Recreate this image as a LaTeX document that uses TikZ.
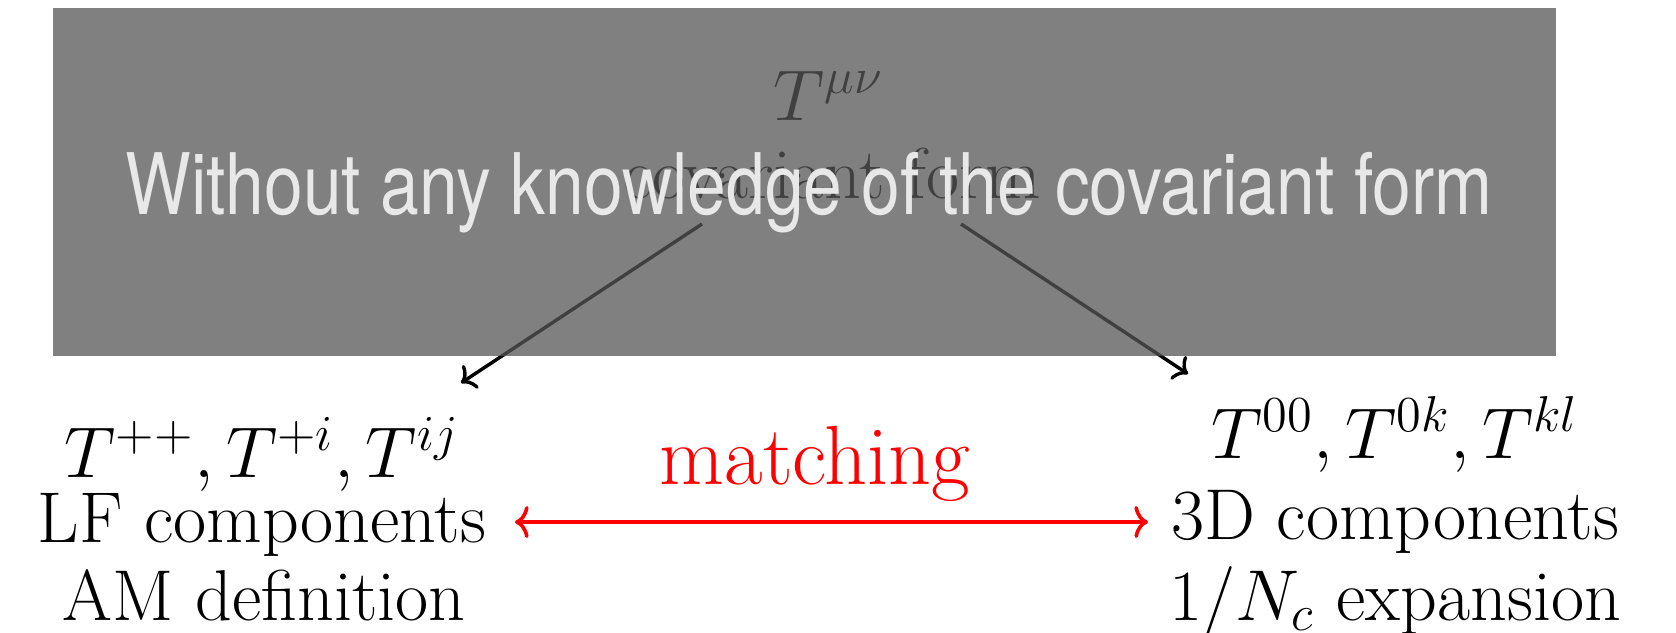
\documentclass[tikz,border=0pt]{standalone}
\usepackage{fix-cm}
\usepackage{graphicx}
\usepackage{fontspec}
\newfontfamily\herosfont{TeX Gyre Heros}
\usetikzlibrary{arrows.meta,calc}
\definecolor{veil}{RGB}{86,86,86}
\definecolor{veiltext}{RGB}{232,232,232}
\begin{document}
\begin{tikzpicture}[x=0.25pt,y=-0.25pt,
  lbl/.style={inner sep=0pt,anchor=base,font=\fontsize{18}{21.6}\selectfont},
  arr/.style={line width=0.85pt,-{To[length=3.2pt,width=7pt]}},
  redarr/.style={red,line width=0.9pt,{To[length=3.4pt,width=8pt]}-{To[length=3.4pt,width=8pt]}},
  veilbox/.style={fill=veil,fill opacity=0.75},
  note/.style={inner sep=0pt,anchor=base,text=veiltext,font=\herosfont\fontsize{17.4}{20}\selectfont}]
\useasboundingbox (0,0) rectangle (1676,632);
\fill[white] (0,0) rectangle (1676,632);
% top
\node[lbl] (mu) at (829,120) {$T^{\mu\nu}$};
\node[lbl] (cov) at (832,198) {covariant form};
% left column
\node[lbl] (lt) at (262,477) {$T^{++},T^{+i},T^{ij}$};
\node[lbl] (lf) at (262,542) {LF components};
\node[lbl] (am) at (264,620) {AM definition};
% right column
\node[lbl] (rt) at (1395,458) {$T^{00},T^{0k},T^{kl}$};
\node[lbl] (rd) at (1395,539) {3D components};
\node[lbl] (rn) at (1395,620) {$1/N_c$ expansion};
% matching
\node[lbl,text=red,font=\fontsize{21}{25}\selectfont] (match) at (815,484) {matching};
% arrows
\draw[arr] ($(cov.base)+(-130,26)$) -- ($(lt.base)+(199,-94)$);
\draw[arr] ($(cov.base)+(129,26)$) -- ($(rt.base)+(-207,-84)$);
\draw[redarr] ($(lf.base)+(253,-20)$) -- ($(lf.base)+(886,-20)$);
% overlay
\fill[veilbox] (53,8) rectangle (1556,356);
\node[note] (caption) at (809,214) {\scalebox{1}[1.22]{Without any knowledge of the covariant form}};
\end{tikzpicture}
\end{document}
